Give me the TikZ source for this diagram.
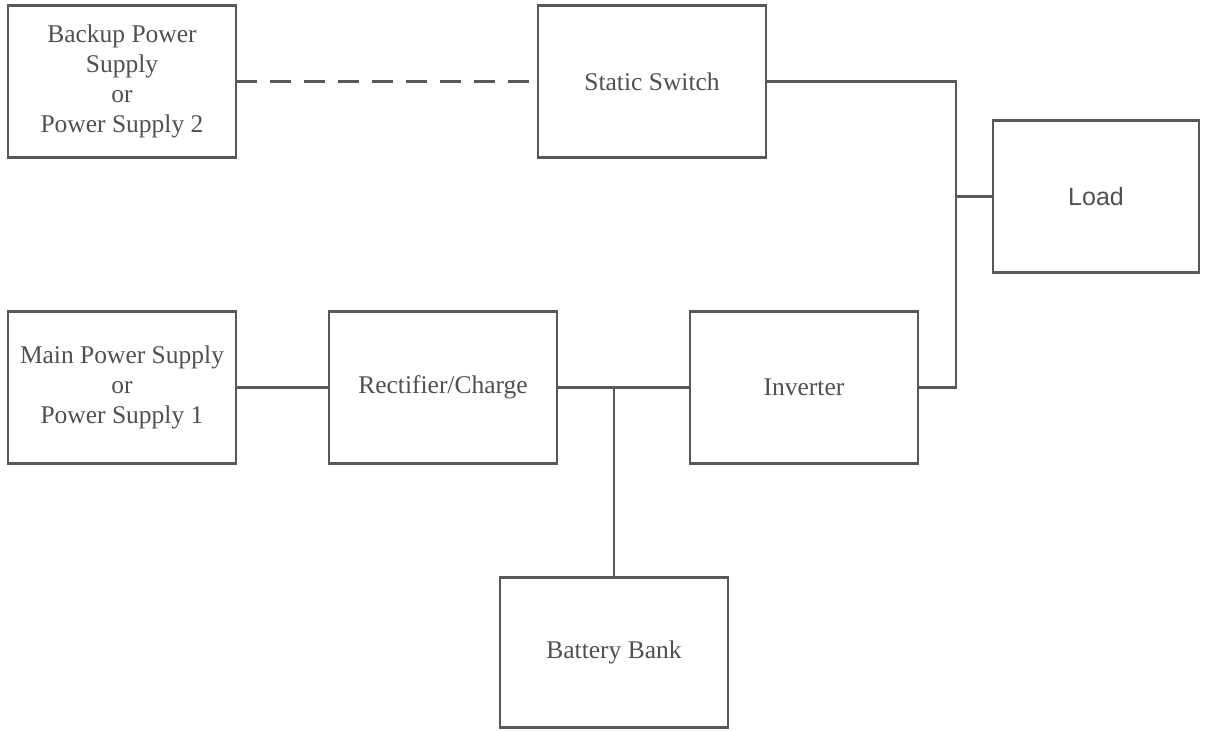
\documentclass[tikz,border=0pt]{standalone}
\usepackage{fontspec}
\setmainfont{Liberation Serif}
\newfontfamily\loadfont{Liberation Sans}
\usetikzlibrary{positioning}
\definecolor{LineGray}{RGB}{88, 88, 88}
\definecolor{TextGray}{RGB}{80, 80, 80}

\begin{document}
\begin{tikzpicture}[
    box/.style={draw=LineGray, line width=2.4pt, outer sep=0pt, rectangle, minimum width=228pt, minimum height=152pt, align=center, text=TextGray, font=\fontsize{25.5}{30}\selectfont},
    wire/.style={line width=2.2pt, LineGray},
    dashwire/.style={wire, dash pattern=on 21pt off 13pt}
  ]
    \useasboundingbox (0,0) rectangle (1205pt,-731pt);

    \node[box] (bk) at (122pt,-81.5pt) {Backup Power\\Supply\\or\\Power Supply 2};
    \node[box, right=302pt of bk] (sw) {Static Switch};
    \node[box, below=154pt of bk] (main) {Main Power Supply\\or\\Power Supply 1};
    \node[box, right=93pt of main] (rect) {Rectifier/Charge};
    \node[box, right=133pt of rect] (inv) {Inverter};

    \coordinate[right=57pt of rect.east] (jb);
    \coordinate[right=190pt of sw.east] (jl);

    \node[box, minimum height=150pt, below=190pt of jb] (bat) {Battery Bank};
    \node[box, minimum width=206pt, right=37pt of jl, yshift=-115pt, font=\loadfont\fontsize{25}{30}\selectfont] (load) {Load};

    \draw[dashwire] (bk) -- (sw);
    \draw[wire] (sw.east) -- (jl) |- (inv.east);
    \draw[wire] (load.west) -- (load.west -| jl);
    \draw[wire] (main) -- (rect);
    \draw[wire] (rect) -- (inv);
    \draw[wire] (jb) -- (bat);
  \end{tikzpicture}
\end{document}
